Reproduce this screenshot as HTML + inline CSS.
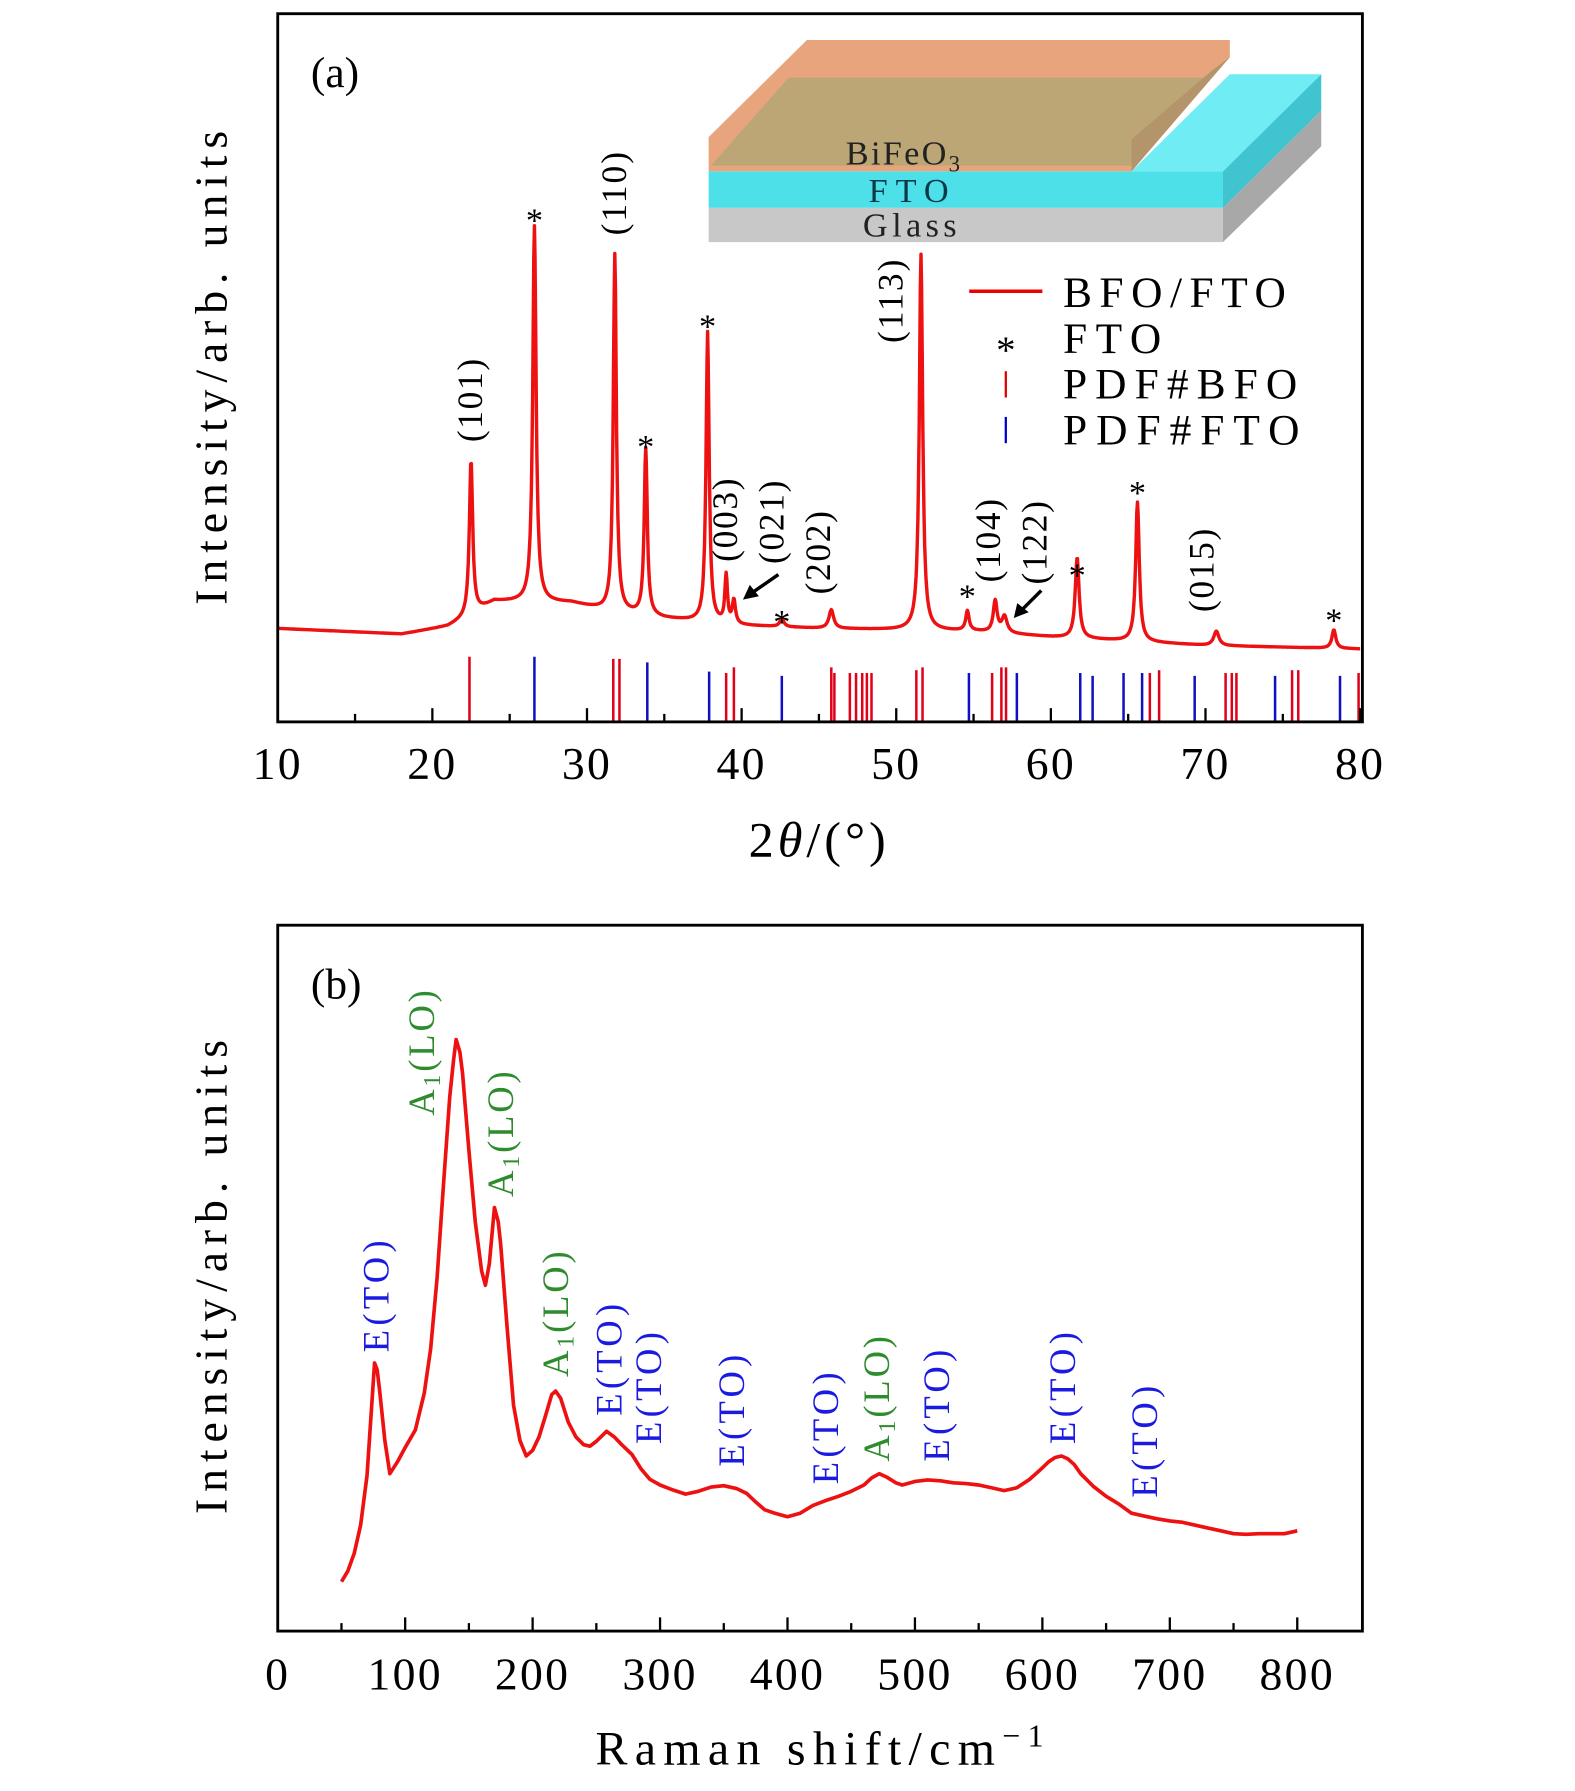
<!DOCTYPE html>
<html><head><meta charset="utf-8"><style>
html,body{margin:0;padding:0;background:#fff}
svg{display:block}
text{font-family:"Liberation Serif",serif}
</style></head><body>
<svg id="fig" width="1575" height="1791" viewBox="0 0 1378 1568" preserveAspectRatio="none" xmlns="http://www.w3.org/2000/svg">
<g id="pa">
  <g>
    <polygon points="620,150 620,120 706,35 1076,35 1076,50 990,150" fill="#e8a47c"/>
    <polygon points="622,145 690,68 1055,68 990,145" fill="#bca676"/>
    <polygon points="990,150 990,122 1060,62 1076,50" fill="#b4946a"/>
    <polygon points="990,150 1076,65 1156,65 1070,150" fill="#70ecf4"/>
    <polygon points="620,150 1070,150 1070,182 620,182" fill="#4ee0e8"/>
    <polygon points="1070,150 1156,65 1156,97 1070,182" fill="#40c4d0"/>
    <polygon points="620,182 1070,182 1070,212 620,212" fill="#c8c8c8"/>
    <polygon points="1070,182 1156,97 1156,128 1070,212" fill="#a8a8a8"/>
    <text x="740" y="144" font-size="30" textLength="100" fill="#222">BiFeO<tspan font-size="20" dy="6">3</tspan></text>
    <text x="760" y="177" font-size="30" textLength="70" fill="#0a3a4a">FTO</text>
    <text x="755" y="207" font-size="30" textLength="82" fill="#222">Glass</text>
  </g>
  <g id="pa-data"></g>
  <rect x="243" y="12" width="949" height="620" fill="none" stroke="#000" stroke-width="2.5"/>
  <text x="272" y="76" font-size="38">(a)</text>
  <text transform="translate(198,322) rotate(-90)" font-size="40" text-anchor="middle" textLength="415">Intensity/arb. units</text>
  <text x="655" y="750" font-size="44" textLength="120">2<tspan font-style="italic">θ</tspan>/(°)</text>
  <g>
    <line x1="848" y1="255" x2="912" y2="255" stroke="#e00" stroke-width="3"/>
    <text x="930" y="269" font-size="38" textLength="195">BFO/FTO</text>
    <text x="880" y="318" font-size="34" text-anchor="middle">*</text>
    <text x="930" y="309" font-size="38" textLength="86">FTO</text>
    <line x1="880" y1="325" x2="880" y2="348" stroke="#d00" stroke-width="2"/>
    <text x="930" y="349" font-size="38" textLength="205">PDF#BFO</text>
    <line x1="880" y1="365" x2="880" y2="388" stroke="#00c" stroke-width="2"/>
    <text x="930" y="389" font-size="38" textLength="207">PDF#FTO</text>
  </g>
  <g>
    <line x1="681" y1="503" x2="658" y2="519" stroke="#000" stroke-width="3"/>
    <polygon points="650,525 656,512 664,522" fill="#000"/>
    <line x1="911" y1="517" x2="894" y2="534" stroke="#000" stroke-width="3"/>
    <polygon points="887,541 890,528 900,536" fill="#000"/>
  </g>
</g>
<g id="pb">
  <g id="pb-data"></g>
  <rect x="243" y="810" width="949" height="618" fill="none" stroke="#000" stroke-width="2.5"/>
  <text x="272" y="874" font-size="38">(b)</text>
  <text transform="translate(198,1118) rotate(-90)" font-size="40" text-anchor="middle" textLength="415">Intensity/arb. units</text>
  <text x="521" y="1545" font-size="42" textLength="392">Raman shift/cm<tspan font-size="28" dy="-16">−1</tspan></text>
</g>
</svg>
<script>
// ---------- Panel (a) XRD data ----------
const xrdBaseX = [10,18,21,22,24,29,31,35,40,45,55,60,70,80];
const xrdBaseI = [13.2,12.4,13.5,14.5,17.0,16.8,15.8,14.6,13.6,13.2,12.8,12.0,10.8,10.3];
const xrdPeakPos = [22.5,26.6,31.8,33.8,37.8,39.0,39.5,42.6,45.8,51.6,54.6,56.4,57.0,61.7,65.6,70.7,78.3];
const xrdPeakTop = [36.9,70.0,66.0,38.5,55.0,20.5,17.0,14.6,15.8,66.0,15.6,17.0,14.8,23.2,31.0,12.8,13.0];
const xrdPeakWidth = [0.13,0.13,0.12,0.12,0.12,0.1,0.12,0.15,0.18,0.13,0.13,0.15,0.2,0.15,0.14,0.2,0.15];
const bfoRefPos = [22.4,31.7,32.1,39.0,39.5,45.8,46.0,47.0,47.4,47.8,48.1,48.4,51.3,51.7,56.2,56.8,57.1,66.4,67.0,71.3,71.7,72.0,75.6,76.0,79.9];
const bfoRefI = [9.2,8.9,8.9,6.9,7.7,7.7,6.9,6.9,6.9,6.9,6.9,6.9,7.3,7.7,6.9,7.7,7.7,6.9,7.3,6.9,6.9,6.9,7.3,7.3,6.9];
const ftoRefPos = [26.6,33.9,37.9,42.6,54.7,57.8,61.9,62.7,64.7,65.9,69.3,74.5,78.7];
const ftoRefI = [9.2,8.4,7.1,6.5,6.9,6.9,6.9,6.5,6.9,6.9,6.5,6.5,6.5];
const xrdTicks = [10,20,30,40,50,60,70,80];
const xrdMinor = [15,25,35,45,55,65,75];
const hklLabels = ["(101)","(110)","(113)","(003)","(021)","(202)","(104)","(122)","(015)"];
const hklPos = [22.4,31.7,49.6,38.9,41.9,44.9,55.9,58.9,69.7];
const hklBottomI = [39.5,68.7,53.5,22.6,22.3,18.0,19.7,19.4,15.5];
const starPos = [26.6,33.8,37.8,42.6,54.6,61.7,65.6,78.3];
const starI = [71.5,39.5,56.5,14.8,18.4,21.4,33.0,15.0];

// ---------- Panel (b) Raman data ----------
const ramanX = [50,55,60,65,70,73,76,78,80,84,88,94,100,108,115,120,125,130,135,138,140,143,145,150,155,160,163,166,170,173,175,180,185,190,195,200,205,210,215,218,222,228,234,240,245,250,258,264,270,278,285,292,300,310,320,330,340,350,360,368,375,382,390,400,410,420,430,440,450,460,466,472,478,485,490,500,510,520,530,540,550,560,570,580,590,598,605,610,615,620,625,630,640,650,660,670,680,690,700,710,720,730,740,750,760,770,780,790,800];
const ramanI = [7,8.5,11,15,22,30,38,37,34,27,22.3,24,26,28.5,33.7,40,50,63,75.7,81,83.8,82,79,68,58,51,49,52,60,58,54.7,43,32,27,24.8,25.6,27.5,30.4,33.5,34,33,29.6,27.5,26.4,26.2,26.9,28.3,27.5,26.4,25,23,21.5,20.7,20,19.4,19.8,20.4,20.6,20.2,19.5,18.3,17.2,16.7,16.2,16.7,17.8,18.5,19.1,19.8,20.7,21.7,22.3,21.8,21,20.7,21.2,21.4,21.3,21,20.9,20.7,20.3,19.9,20.3,21.5,22.8,24,24.6,24.8,24.4,23.6,22.3,20.5,19.1,18,16.7,16.3,15.9,15.6,15.4,15.0,14.6,14.2,13.8,13.7,13.8,13.8,13.8,14.2];
const ramanTicks = [0,100,200,300,400,500,600,700,800];
const ramanMinor = [50,150,250,350,450,550,650,750];
const modeLabels = ["E(TO)","A1(LO)","A1(LO)","A1(LO)","E(TO)","E(TO)","E(TO)","E(TO)","A1(LO)","E(TO)","E(TO)","E(TO)"];
const modePos = [76,112,174,217,259,290,355,429,469,516,615,679];
const modeBottomI = [39.5,73,61.5,36,30.5,26.5,23.3,20.8,24,24,26.5,18.9];

const NS="http://www.w3.org/2000/svg";
function mk(tag,attrs,parent){const e=document.createElementNS(NS,tag);for(const k in attrs)e.setAttribute(k,attrs[k]);parent.appendChild(e);return e;}

const axA = {x0:243,x1:1190,d0:10,d1:80,yb:632,ys:6.2};
const xA = v => axA.x0 + (v-axA.d0)*(axA.x1-axA.x0)/(axA.d1-axA.d0);
const yA = v => axA.yb - v*axA.ys;
const xB = v => 243 + v*1.115;
const yB = v => 1428 - v*6.18;

function interp(xs,ys,x){
  if(x<=xs[0])return ys[0];
  for(let i=1;i<xs.length;i++){if(x<=xs[i]){const t=(x-xs[i-1])/(xs[i]-xs[i-1]);return ys[i-1]+t*(ys[i]-ys[i-1]);}}
  return ys[ys.length-1];
}

const ga=document.getElementById('pa-data');
for(let i=0;i<bfoRefPos.length;i++){
  const l=mk('line',{x1:xA(bfoRefPos[i]),x2:xA(bfoRefPos[i]),y1:yA(0),y2:yA(bfoRefI[i]),stroke:'#e0001a','stroke-width':2.2},ga);
  
  
}
for(let i=0;i<ftoRefPos.length;i++){
  const l=mk('line',{x1:xA(ftoRefPos[i]),x2:xA(ftoRefPos[i]),y1:yA(0),y2:yA(ftoRefI[i]),stroke:'#1010c0','stroke-width':2.2},ga);
  
  
}
let d='';
for(let x=10;x<=80.001;x+=0.04){
  let I=interp(xrdBaseX,xrdBaseI,x);
  for(let k=0;k<xrdPeakPos.length;k++){
    const h=xrdPeakTop[k]-interp(xrdBaseX,xrdBaseI,xrdPeakPos[k]);
    const u=(x-xrdPeakPos[k])/xrdPeakWidth[k];
    I+=h/(1+u*u);
  }
  d+=(d?'L':'M')+xA(x).toFixed(1)+','+yA(I).toFixed(1);
}
const ca=mk('path',{d:d,fill:'none',stroke:'#ee1111','stroke-width':3,'stroke-linejoin':'round'},ga);


xrdTicks.forEach(v=>{
  const t=mk('line',{x1:xA(v),x2:xA(v),y1:632,y2:620,stroke:'#000','stroke-width':2},ga);
  
  
  const tx=mk('text',{x:xA(v),y:682,'font-size':40,'text-anchor':'middle','letter-spacing':2},ga);
  tx.textContent=v;
  
  
});
xrdMinor.forEach(v=>{
  const t=mk('line',{x1:xA(v),x2:xA(v),y1:632,y2:625,stroke:'#000','stroke-width':2},ga);
  
  
});
for(let i=0;i<hklLabels.length;i++){
  const x=xA(hklPos[i])+11, y=yA(hklBottomI[i]);
  const t=mk('text',{transform:`translate(${x},${y}) rotate(-90)`,'font-size':31,textLength:73},ga);
  t.textContent=hklLabels[i];
  
  
}
for(let i=0;i<starPos.length;i++){
  const t=mk('text',{x:xA(starPos[i]),y:yA(starI[i])+14,'font-size':30,'text-anchor':'middle'},ga);
  t.textContent='*';
  
  
}

const gb=document.getElementById('pb-data');
let db='';
for(let i=0;i<ramanX.length;i++) db+=(i?'L':'M')+xB(ramanX[i]).toFixed(1)+','+yB(ramanI[i]).toFixed(1);
const cb=mk('path',{d:db,fill:'none',stroke:'#ee1111','stroke-width':3.2,'stroke-linejoin':'round'},gb);


ramanTicks.forEach(v=>{
  const t=mk('line',{x1:xB(v),x2:xB(v),y1:1428,y2:1416,stroke:'#000','stroke-width':2},gb);
  
  
  const tx=mk('text',{x:xB(v),y:1479,'font-size':40,'text-anchor':'middle','letter-spacing':2},gb);
  tx.textContent=v;
  
  
});
ramanMinor.forEach(v=>{
  const t=mk('line',{x1:xB(v),x2:xB(v),y1:1428,y2:1421,stroke:'#000','stroke-width':2},gb);
  
  
});
for(let i=0;i<modeLabels.length;i++){
  const isA=modeLabels[i].startsWith('A');
  const x=xB(modePos[i])+12, y=yB(modeBottomI[i]);
  const t=mk('text',{transform:`translate(${x},${y}) rotate(-90)`,'font-size':32,fill:isA?'#2e8b2e':'#1a1ae0',textLength:isA?110:98},gb);
  if(isA){t.innerHTML='A<tspan font-size="21" dy="5">1</tspan><tspan dy="-5">(LO)</tspan>';}
  else t.textContent=modeLabels[i];
  
  
}
</script>
</body></html>
